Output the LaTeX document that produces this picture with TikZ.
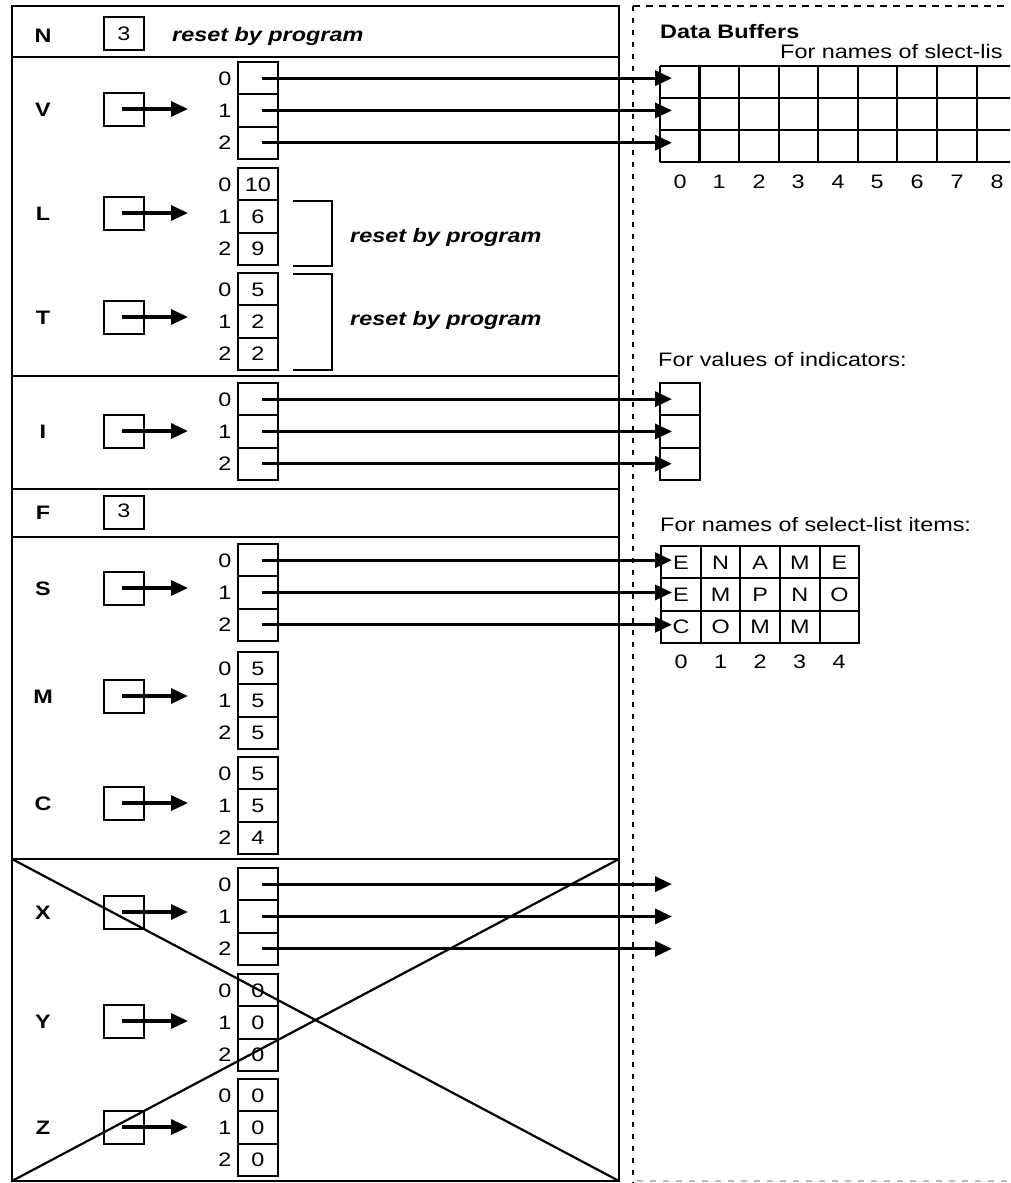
\documentclass[tikz,border=0pt]{standalone}
\usepackage{fontspec}
\setmainfont[FakeStretch=1.2]{Liberation Sans}
\usetikzlibrary{arrows.meta}
\newcommand{\fs}{\fontsize{19.5}{23}\selectfont}
% #1 name, #2 label, #3 array top, #4 label/pointer y, #5 #6 #7 values
\newcommand{\sect}[7]{%
  \node[lbl] (#1lab) at (43,#4) {#2};
  \node[pbox] (#1p) at (124,#4) {};
  \coordinate (#1tip) at (188,#4);
  \draw[parrow] ([xshift=-2pt]#1p.center) -- (#1tip);
  \node[cell] (#1c0) at (258,#3+16.15) {#5};
  \node[cell] (#1c1) at (258,#3+48.45) {#6};
  \node[cell] (#1c2) at (258,#3+80.75) {#7};
  \node[num] (#1i0) at (225,#3+16.15) {0};
  \node[num] (#1i1) at (225,#3+48.45) {1};
  \node[num] (#1i2) at (225,#3+80.75) {2};
}
\begin{document}
\begin{tikzpicture}[x=1pt,y=-1pt,font=\fs,
  lbl/.style={font=\fs\bfseries, inner sep=0pt, text height=14pt, text depth=0pt},
  num/.style={inner sep=0pt, text height=14pt, text depth=0pt},
  cell/.style={draw, line width=2pt, minimum width=40pt, minimum height=32.3pt, inner sep=0pt, text height=14pt, text depth=0pt},
  lcell/.style={cell, minimum width=39.6pt},
  pbox/.style={draw, line width=2pt, minimum width=40pt, minimum height=33pt, inner sep=0pt, text height=14pt, text depth=0pt},
  parrow/.style={line width=3.3pt, -{Triangle[length=17pt,width=15pt]}},
  rbp/.style={font=\fs\bfseries\itshape, inner sep=0pt, anchor=base west},
  txt/.style={inner sep=0pt, anchor=base west},
  thickline/.style={line width=2.4pt},
  gridline/.style={line width=2.2pt}]
\useasboundingbox (0,0) rectangle (1010,1183);

% outer frame and dividers
\draw[thickline] (12,6) rectangle (619,1181);
\foreach \yy in {57,376,489,537,859} \draw[thickline] (12,\yy) -- (619,\yy);

% dashed boundary of data buffers
\draw[line width=2.2pt, dash pattern=on 5pt off 7pt] (633,6) -- (633,1183);
\draw[line width=2.2pt, dash pattern=on 7pt off 6pt] (633,6) -- (1010,6);
\draw[gray!55, line width=1.8pt, dash pattern=on 6pt off 7pt] (637,1181) -- (1010,1181);

% N row
\node[lbl] (Nlab) at (43,35) {N};
\node[pbox] (Nbox) at (124,33.5) {3};
\node[rbp] (Nrbp) at (172,41) {reset by program};

% F row
\node[lbl] (Flab) at (43,512) {F};
\node[pbox] (Fbox) at (124,512.5) {\raisebox{2pt}{3}};

% sections
\sect{V}{V}{62}{109}{}{}{}
\sect{L}{L}{168}{213}{10}{6}{9}
\sect{T}{T}{273}{317}{5}{2}{2}
\sect{I}{I}{383}{431}{}{}{}
\sect{S}{S}{544}{588}{}{}{}
\sect{M}{M}{652}{696}{5}{5}{5}
\sect{C}{C}{757}{803}{5}{5}{4}
\sect{X}{X}{868}{912}{}{}{}
\sect{Y}{Y}{974}{1021}{0}{0}{0}
\sect{Z}{Z}{1079}{1127}{0}{0}{0}

% brackets and notes
\draw[line width=2pt] (293,201) -- (332,201) -- (332,266) -- (293,266);
\draw[line width=2pt] (293,274) -- (332,274) -- (332,370) -- (293,370);
\node[rbp] (Lrbp) at (350,242) {reset by program};
\node[rbp] (Trbp) at (350,325) {reset by program};

% crossed-out region
\draw[line width=2.2pt] (12,859) -- (619,1181);
\draw[line width=2.2pt] (12,1181) -- (619,859);

% Data buffers header
\node[txt, font=\fs\bfseries] (DB) at (660,38.3) {Data Buffers};
\node[txt] (fn1) at (780,58.3) {For names of slect-lis};

% top buffer grid
\foreach \xx in {660,699.5,739,779,818,858,897,937,977} \draw[gridline] (\xx,66) -- (\xx,162);
\foreach \yy in {66,98,130,162} \draw[gridline] (660,\yy) -- (1010,\yy);
\foreach \i/\xx in {0/680,1/719,2/759,3/798,4/838,5/877,6/917,7/957,8/997}
  \node[num] (bt\i) at (\xx,181.5) {\i};

% indicator buffer
\node[txt] (fvi) at (658,366.5) {For values of indicators:};
\node[cell] (ib0) at (680,399.15) {};
\node[cell] (ib1) at (680,431.45) {};
\node[cell] (ib2) at (680,463.75) {};

% select-list names buffer
\node[txt] (fns) at (660,531.5) {For names of select-list items:};
\foreach \r/\yy/\letters in {0/562.15/{E,N,A,M,E},1/594.45/{E,M,P,N,O},2/626.75/{C,O,M,M,{}}}{
  \foreach \ch [count=\c from 0] in \letters {
    \node[lcell] (sn\r\c) at (681+39.6*\c,\yy) {\ch};
  }
}
\foreach \i/\xx in {0/681,1/720.5,2/760,3/799.5,4/839}
  \node[num] (bs\i) at (\xx,661.5) {\i};

% long pointer arrows
\foreach \s/\y in {V/78.15,I/399.15,S/560.15,X/884.15}{
  \coordinate (\s t0) at (672,\y);
  \coordinate (\s t1) at (672,\y+32.3);
  \coordinate (\s t2) at (672,\y+64.6);
  \draw[parrow] ([xshift=4pt]\s c0.center) -- (\s t0);
  \draw[parrow] ([xshift=4pt]\s c1.center) -- (\s t1);
  \draw[parrow] ([xshift=4pt]\s c2.center) -- (\s t2);
}
\end{tikzpicture}
\end{document}
